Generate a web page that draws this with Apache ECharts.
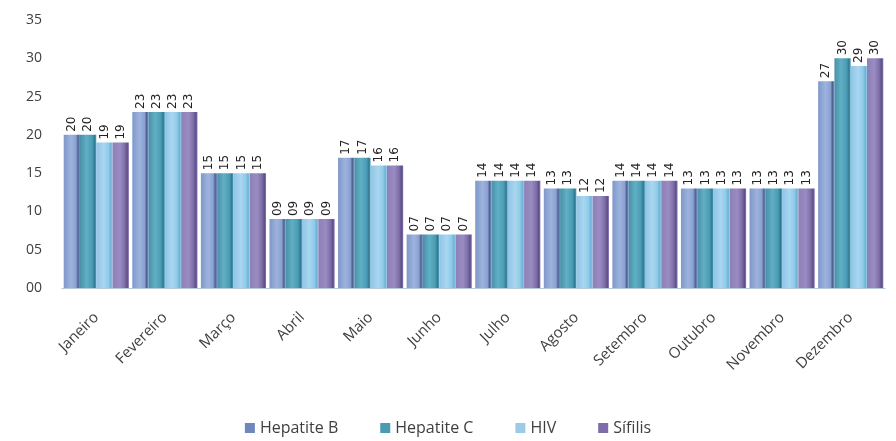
<!DOCTYPE html>
<html>
<head>
<meta charset="utf-8">
<script src="https://cdn.jsdelivr.net/npm/echarts@6/dist/echarts.min.js"></script>
<style>html,body{margin:0;padding:0;background:#fff}#c{width:896px;height:441px}</style>
</head>
<body>
<div id="c"></div>
<script>
const months = ['Janeiro','Fevereiro','Março','Abril','Maio','Junho','Julho','Agosto','Setembro','Outubro','Novembro','Dezembro'];
const hepatiteB = [20,23,15,9,17,7,14,13,14,13,13,27];
const hepatiteC = [20,23,15,9,17,7,14,13,14,13,13,30];
const hiv = [19,23,15,9,16,7,14,12,14,13,13,29];
const sifilis = [19,23,15,9,16,7,14,12,14,13,13,30];
const yTicks = [0,5,10,15,20,25,30,35];

function pad(v){ v = Math.round(v); return (v < 10 ? '0' : '') + v; }
function grad(stops){
  return new echarts.graphic.LinearGradient(0,0,1,0, stops.map((c,i)=>({offset:c[0], color:c[1]})));
}
const colors = [
  grad([[0,'#7f98c9'],[0.45,'#9db3de'],[0.75,'#8aa2d2'],[0.88,'#4f6293'],[1,'#7c93c6']]),
  grad([[0,'#4a8fa8'],[0.4,'#5fb0c4'],[0.75,'#4b9cb4'],[0.9,'#2f7a93'],[1,'#5aa6bd']]),
  grad([[0,'#8fc3e6'],[0.45,'#a9d6f0'],[0.75,'#8fcbe8'],[0.9,'#6cb3d6'],[1,'#9bcde9']]),
  grad([[0,'#8c80b8'],[0.45,'#9a8cc2'],[0.75,'#7e6ea8'],[0.9,'#5d4f88'],[1,'#8679b3']])
];
const legendColors = ['#6f87bd','#4a9cb2','#9ccbe8','#7d6daa'];
const names = ['Hepatite B','Hepatite C','HIV','Sífilis'];
const data = [hepatiteB, hepatiteC, hiv, sifilis];

const chart = echarts.init(document.getElementById('c'));
chart.setOption({
  animation: false,
  grid: {left: 62, right: 11, top: 20, bottom: 153, containLabel: false},
  legend: {
    bottom: 0, left: 'center', itemWidth: 10, itemHeight: 10, itemGap: 42,
    icon: 'rect',
    textStyle: {fontFamily: 'Open Sans', fontSize: 16, color: '#404040'},
    data: names.map((n,i)=>({name:n, itemStyle:{color:legendColors[i]}}))
  },
  xAxis: {
    type: 'category', data: months,
    axisLine: {show: true, lineStyle: {color: '#b8c8d8', width: 1}},
    axisTick: {show: false},
    axisLabel: {rotate: 45, interval: 0, fontFamily: 'Open Sans', fontSize: 15, color: '#404040', margin: 27}
  },
  yAxis: {
    type: 'value', min: 0, max: 35, interval: 5,
    axisLine: {show: false}, axisTick: {show: false}, splitLine: {show: false},
    axisLabel: {formatter: pad, fontFamily: 'Open Sans', fontSize: 14, color: '#404040', margin: 20}
  },
  series: data.map((d,i)=>({
    name: names[i], type: 'bar', data: d,
    barGap: '0%', barCategoryGap: '5%',
    itemStyle: {color: colors[i]},
    label: {
      show: true, position: 'top', rotate: 90, align: 'left', verticalAlign: 'middle',
      distance: 3, formatter: p => pad(p.value),
      fontFamily: 'DejaVu Sans', fontSize: 12, color: '#222'
    }
  }))
});
</script>
</body>
</html>
